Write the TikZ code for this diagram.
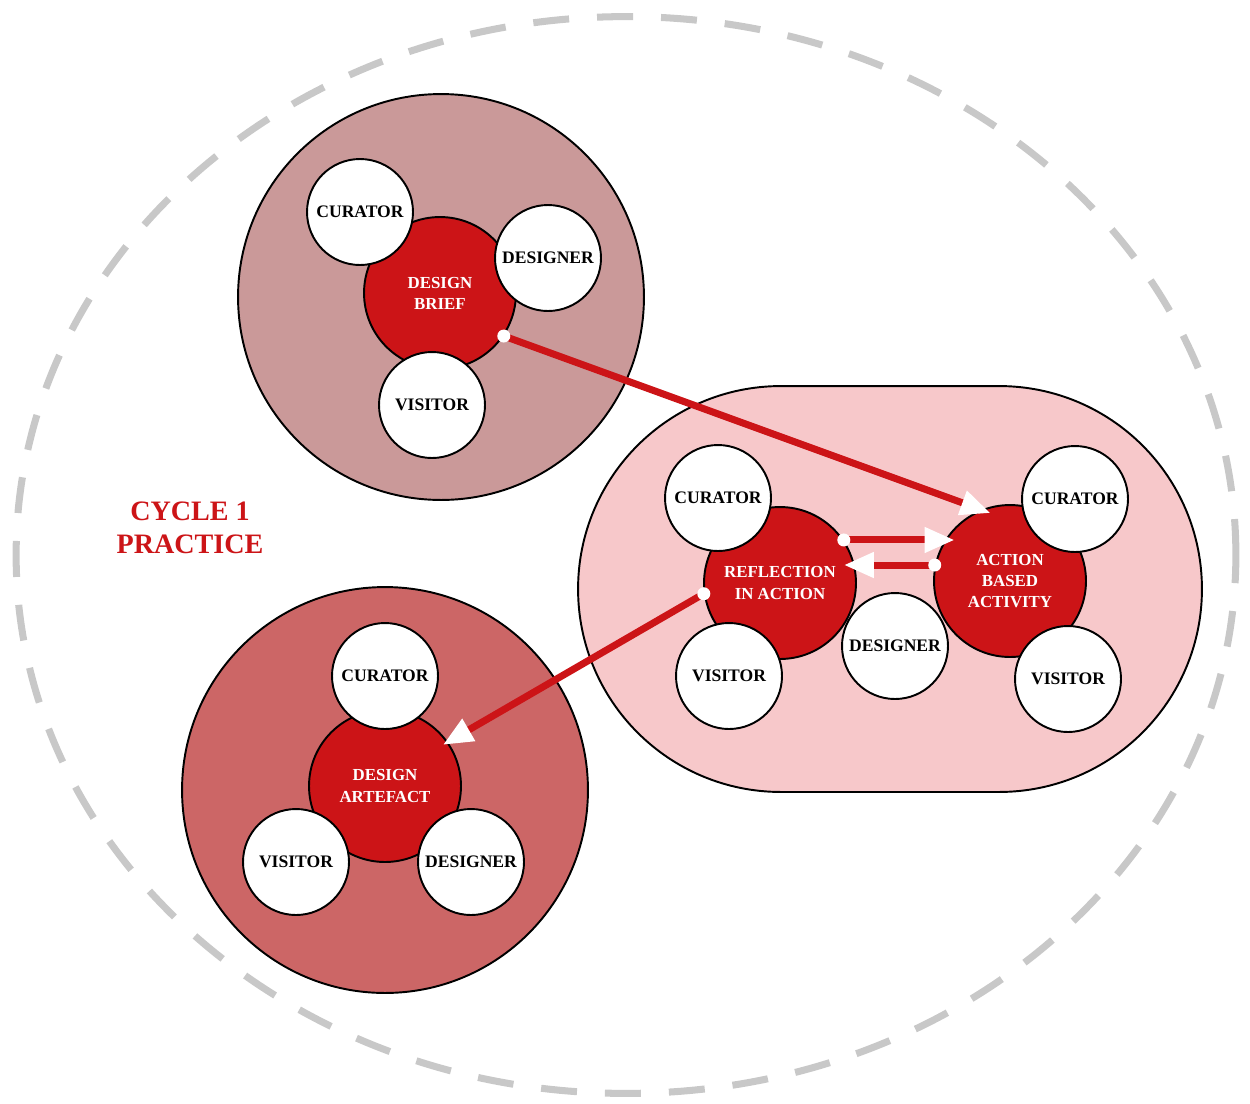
\documentclass[tikz,border=0pt]{standalone}
\usepackage{fontspec}
\setmainfont{Liberation Serif}
\usepackage{tikz}
\usetikzlibrary{arrows.meta}

\definecolor{cyclered}{RGB}{204,20,23}
\definecolor{briefpink}{RGB}{202,153,153}
\definecolor{artefactpink}{RGB}{204,102,102}
\definecolor{looppink}{RGB}{247,200,202}
\definecolor{dashgray}{RGB}{200,200,200}

\begin{document}
\begin{tikzpicture}[x=0.02cm, y=-0.02cm,
	group/.style={shape=circle, draw=black, line width=1.1pt, minimum size=8.12cm, inner sep=0pt},
	stage/.style={shape=circle, draw=black, fill=cyclered, line width=1.1pt, minimum size=3.04cm, inner sep=0pt,
		text=white, align=center, font=\fontsize{9.6}{12}\selectfont\bfseries},
	role/.style={shape=circle, draw=black, fill=white, line width=1.1pt, minimum size=2.12cm, inner sep=0pt,
		font=\fontsize{10}{11}\selectfont\bfseries},
	link/.style={draw=cyclered, line width=4pt, -{Triangle[length=6mm, width=4.8mm, white]}},
	dot/.style={shape=circle, fill=white, minimum size=0.26cm, inner sep=0pt}]
	\useasboundingbox (0, 0) rectangle (1250, 1103);

	\draw[dashgray, line width=4pt, dash pattern=on 0.72cm off 0.56cm] (626, 555) ellipse [x radius=12.2cm, y radius=10.77cm];

	\node[text=cyclered, align=center, font=\fontsize{16}{19}\selectfont\bfseries] (title) at (190, 528) {CYCLE 1\\PRACTICE};

	\node[group, fill=briefpink] (briefgroup) at (441, 297) {};
	\node[stage] (brief) at (440, 293) {DESIGN\\BRIEF};
	\node[role] (briefcurator) at (360, 212) {CURATOR};
	\node[role] (briefdesigner) at (548, 258) {DESIGNER};
	\node[role] (briefvisitor) at (432, 405) {VISITOR};

	\node[shape=rectangle, draw=black, fill=looppink, line width=1.1pt, rounded corners=4.06cm,
		minimum width=12.48cm, minimum height=8.12cm] (loop) at (890, 589) {};
	\node[stage] (ria) at (780, 583) {REFLECTION\\IN ACTION};
	\node[stage] (aba) at (1010, 581) {ACTION\\BASED\\ACTIVITY};
	\node[role] (riacurator) at (718, 498) {CURATOR};
	\node[role] (riavisitor) at (729, 676) {VISITOR};
	\node[role] (loopdesigner) at (895, 646) {DESIGNER};
	\node[role] (abacurator) at (1075, 499) {CURATOR};
	\node[role] (abavisitor) at (1068, 679) {VISITOR};

	\node[group, fill=artefactpink] (artefactgroup) at (385, 790) {};
	\node[stage] (artefact) at (385, 786) {DESIGN\\ARTEFACT};
	\node[role] (artefactcurator) at (385, 676) {CURATOR};
	\node[role] (artefactvisitor) at (296, 862) {VISITOR};
	\node[role] (artefactdesigner) at (471, 862) {DESIGNER};

	\draw[link, shorten >=-0.2cm] (brief.-34) -- (aba.112);
	\draw[link] (ria.34) -- (ria.34 -| aba.136);
	\draw[link] (aba.168) -- (aba.168 -| ria.34);
	\draw[link, shorten >=-0.12cm] (ria.188) -- (artefact.35);

	\node[dot] (briefdot) at (brief.-34) {};
	\node[dot] (riadot) at (ria.34) {};
	\node[dot] (abadot) at (aba.168) {};
	\node[dot] (riadot2) at (ria.188) {};
\end{tikzpicture}
\end{document}
